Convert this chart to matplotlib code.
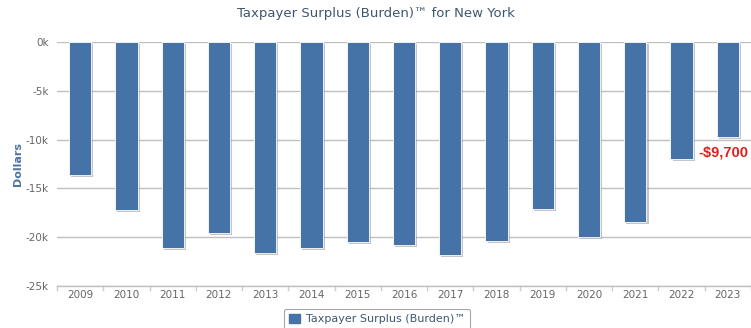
import matplotlib
matplotlib.use("Agg")
import matplotlib.pyplot as plt
import matplotlib.patheffects as pe
from matplotlib.patches import Patch

years = ["2009", "2010", "2011", "2012", "2013", "2014", "2015", "2016",
         "2017", "2018", "2019", "2020", "2021", "2022", "2023"]
values = [-13600, -17200, -21100, -19600, -21650, -21100, -20450, -20800,
          -21800, -20400, -17100, -20000, -18400, -12000, -9700]
yticks = [0, -5000, -10000, -15000, -20000, -25000]
ytick_labels = ["0k", "-5k", "-10k", "-15k", "-20k", "-25k"]
last_label = "-$9,700"
series_name = "Taxpayer Surplus (Burden)™"
title = "Taxpayer Surplus (Burden)™ for New York"

bar_color = "#4572a7"

fig = plt.figure(figsize=(7.51, 3.28), dpi=100)
ax = fig.add_axes([57/751, 1 - 286/328, 694/751, 244/328])

x = list(range(len(years)))
bars = ax.bar(x, values, width=0.48, color=bar_color, zorder=3,
              edgecolor="white", linewidth=0.6)
for b in bars:
    b.set_path_effects([pe.SimplePatchShadow(offset=(1.5, -1.5), shadow_rgbFace="#808080", alpha=0.45),
                        pe.Normal()])

ax.set_xlim(-0.5, len(years) - 0.5)
ax.set_ylim(-25000, 0)
ax.set_yticks(yticks)
ax.set_yticklabels(ytick_labels)
ax.set_xticks(x)
ax.set_xticklabels(years)
ax.grid(axis="y", color="#c0c0c0", linewidth=1, zorder=0)
ax.tick_params(axis="y", length=0, labelsize=7.5, labelcolor="#666666", pad=6)
ax.tick_params(axis="x", length=0, labelsize=7.5, labelcolor="#666666", pad=3)
for s in ["top", "right", "left"]:
    ax.spines[s].set_visible(False)
ax.spines["bottom"].set_color("#c0c0c0")
ax.spines["bottom"].set_linewidth(1)
ax.spines["bottom"].set_zorder(4)

# category boundary tick marks
for i in range(len(years) + 1):
    ax.plot([i - 0.5, i - 0.5], [-25000, -25000 - 400], color="#c0d0e0",
            linewidth=1, clip_on=False, zorder=4)

ax.set_ylabel("Dollars", fontsize=8, fontweight="bold", color="#4d759e", labelpad=2)

ax.text(x[-1] + 0.44, values[-1] - 900, last_label, ha="right", va="top",
        fontsize=10.5, fontweight="bold", color="#e0201f", zorder=5,
        family="Liberation Sans")

fig.text(0.5, 1 - 14/328, title, ha="center", va="center", fontsize=9.5, color="#3e576f")

handle = Patch(facecolor=bar_color, edgecolor=bar_color)
leg = fig.legend([handle], [series_name], loc="upper center",
                 bbox_to_anchor=(377/751, 1 - 303/328), frameon=True, fancybox=True,
                 fontsize=8, handlelength=1.0, handleheight=0.9, handletextpad=0.5,
                 borderpad=0.45)
leg.get_frame().set_edgecolor("#909090")
leg.get_frame().set_linewidth(0.8)
for t in leg.get_texts():
    t.set_color("#3e576f")

fig.savefig("out.png", dpi=100)
